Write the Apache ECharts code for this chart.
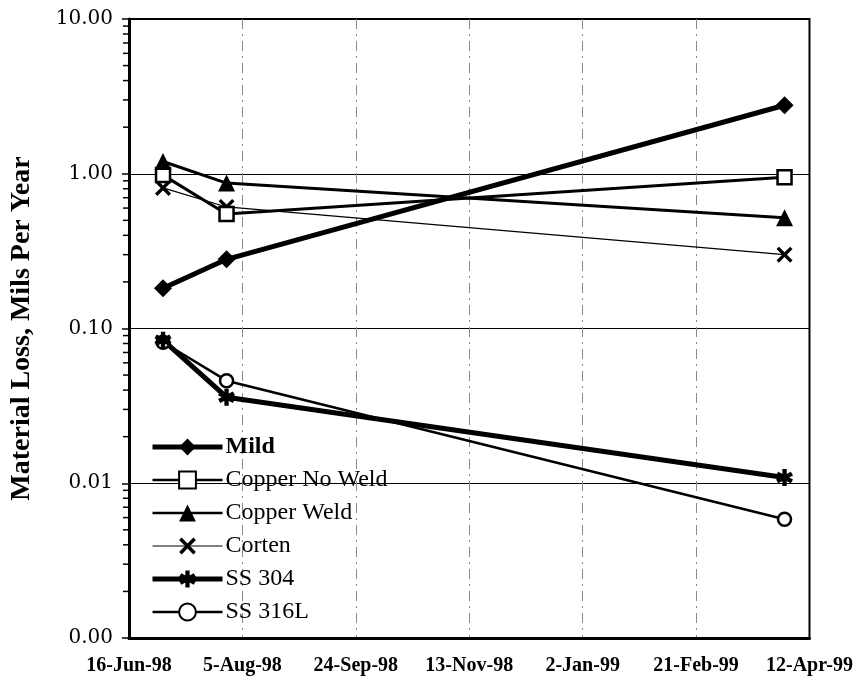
<!DOCTYPE html>
<html>
<head>
<meta charset="utf-8">
<script src="https://cdn.jsdelivr.net/npm/echarts@6/dist/echarts.min.js"></script>
<style>html,body{margin:0;padding:0;background:#fff}#c{width:856px;height:681px}</style>
</head>
<body>
<div id="c"></div>
<script>
// ---- data ----
const startDate = '1998-06-16';
const tickLabels = ['16-Jun-98', '5-Aug-98', '24-Sep-98', '13-Nov-98', '2-Jan-99', '21-Feb-99', '12-Apr-99'];
const sampleDates = ['1998-07-01', '1998-07-29', '1999-04-01'];
const mild = [0.182, 0.280, 2.77];
const copperNoWeld = [0.98, 0.55, 0.95];
const copperWeld = [1.2, 0.87, 0.52];
const corten = [0.81, 0.61, 0.30];
const ss304 = [0.084, 0.036, 0.0109];
const ss316L = [0.0815, 0.046, 0.00585];
const minorTickMultipliers = [2, 3, 4, 5, 6, 7, 8, 9];

const DAY = 86400000;
const dayOffset = d => Math.round((Date.parse(d) - Date.parse(startDate)) / DAY);
const xs = sampleDates.map(dayOffset);
const pts = arr => arr.map((v, i) => [xs[i], v]);
const X_MIN = 0, X_MAX = 300, X_INT = 50;

const minorTicks = [];
for (let k = -3; k < 1; k++) {
  minorTickMultipliers.forEach(m => minorTicks.push([X_MIN, m * Math.pow(10, k)]));
}

const xPath = 'path://M0,1.5 L1.5,0 L5,3.5 L8.5,0 L10,1.5 L6.5,5 L10,8.5 L8.5,10 L5,6.5 L1.5,10 L0,8.5 L3.5,5 Z';
const starPath = 'path://M3.7,0 L6.3,0 L6.3,10 L3.7,10 Z M-0.08,3.87 L1.22,1.62 L10.08,6.13 L8.78,8.38 Z M-0.08,6.13 L8.78,1.62 L10.08,3.87 L1.22,8.38 Z';

const SERIF = '"Liberation Serif", "Times New Roman", serif';

function lineSeries(name, data, symbol, size, width, fill, border) {
  return {
    name, type: 'line', data: pts(data),
    symbol, symbolSize: size, showSymbol: true,
    lineStyle: { color: '#000', width },
    itemStyle: { color: fill, borderColor: '#000', borderWidth: border },
    emphasis: { disabled: true },
    animation: false
  };
}

const legendItems = [
  { name: 'Mild', lineStyle: { width: 5, color: '#000' } },
  { name: 'Copper No Weld', lineStyle: { width: 2.5, color: '#000' } },
  { name: 'Copper Weld', lineStyle: { width: 2.5, color: '#000' } },
  { name: 'Corten', lineStyle: { width: 1, color: '#000' } },
  { name: 'SS 304', lineStyle: { width: 5, color: '#000' } },
  { name: 'SS 316L', lineStyle: { width: 2.5, color: '#000' } }
];

const chart = echarts.init(document.getElementById('c'));
chart.setOption({
  backgroundColor: '#fff',
  animation: false,
  grid: { left: 125, right: 44, top: 19, bottom: 43, show: true, borderColor: '#000', borderWidth: 2, backgroundColor: 'transparent' },
  legend: {
    orient: 'vertical', left: 150, top: 435, padding: 0,
    itemWidth: 70, itemHeight: 21, itemGap: 9,
    data: legendItems,
    formatter: n => n === 'Mild' ? '{b|Mild}' : n,
    textStyle: { fontFamily: SERIF, fontSize: 24, color: '#000', padding: [0, 0, 0, -2],
      rich: { b: { fontFamily: SERIF, fontSize: 24, fontWeight: 'bold', color: '#000' } } },
    selectedMode: false
  },
  xAxis: {
    type: 'value', min: X_MIN, max: X_MAX, interval: X_INT,
    axisLine: { lineStyle: { color: '#000', width: 3 } },
    axisTick: { show: false },
    axisLabel: { formatter: v => tickLabels[Math.round(v / X_INT)] || '', fontFamily: SERIF, fontWeight: 'bold', fontSize: 20, color: '#000', margin: 18 },
    splitLine: { show: true, showMinLine: false, showMaxLine: false, lineStyle: { color: '#888', width: 1, type: [10, 5, 2, 5] } }
  },
  yAxis: {
    type: 'log', logBase: 10, min: 0.001, max: 10,
    name: 'Material Loss, Mils Per Year', nameLocation: 'middle', nameGap: 93,
    nameTextStyle: { fontFamily: SERIF, fontWeight: 'bold', fontSize: 28, color: '#000' },
    axisLine: { show: true, lineStyle: { color: '#000', width: 3 } },
    axisTick: { show: true, length: 7, lineStyle: { color: '#000', width: 1.5 } },
    axisLabel: { formatter: v => Number(v).toFixed(2), fontFamily: '"DejaVu Serif", serif', fontSize: 20, color: '#000', margin: 16 },
    splitLine: { show: true, showMaxLine: false, lineStyle: { color: '#000', width: 1 } }
  },
  series: [
    {
      name: 'minor', type: 'custom', data: minorTicks, silent: true, clip: false, z: 10,
      renderItem: (params, api) => {
        const p = api.coord([api.value(0), api.value(1)]);
        return { type: 'line', shape: { x1: p[0] - 6, y1: p[1], x2: p[0] + 2, y2: p[1] }, style: { stroke: '#000', lineWidth: 1.5 } };
      }
    },
    lineSeries('Corten', corten, xPath, 16, 1.2, '#000', 0),
    lineSeries('SS 316L', ss316L, 'circle', 13, 2.5, '#fff', 2.5),
    lineSeries('Copper No Weld', copperNoWeld, 'rect', 14, 3, '#fff', 2.5),
    lineSeries('Copper Weld', copperWeld, 'triangle', 17, 3, '#000', 0),
    lineSeries('SS 304', ss304, starPath, 17, 5, '#000', 0),
    lineSeries('Mild', mild, 'diamond', 18, 5, '#000', 0)
  ]
});
</script>
</body>
</html>
